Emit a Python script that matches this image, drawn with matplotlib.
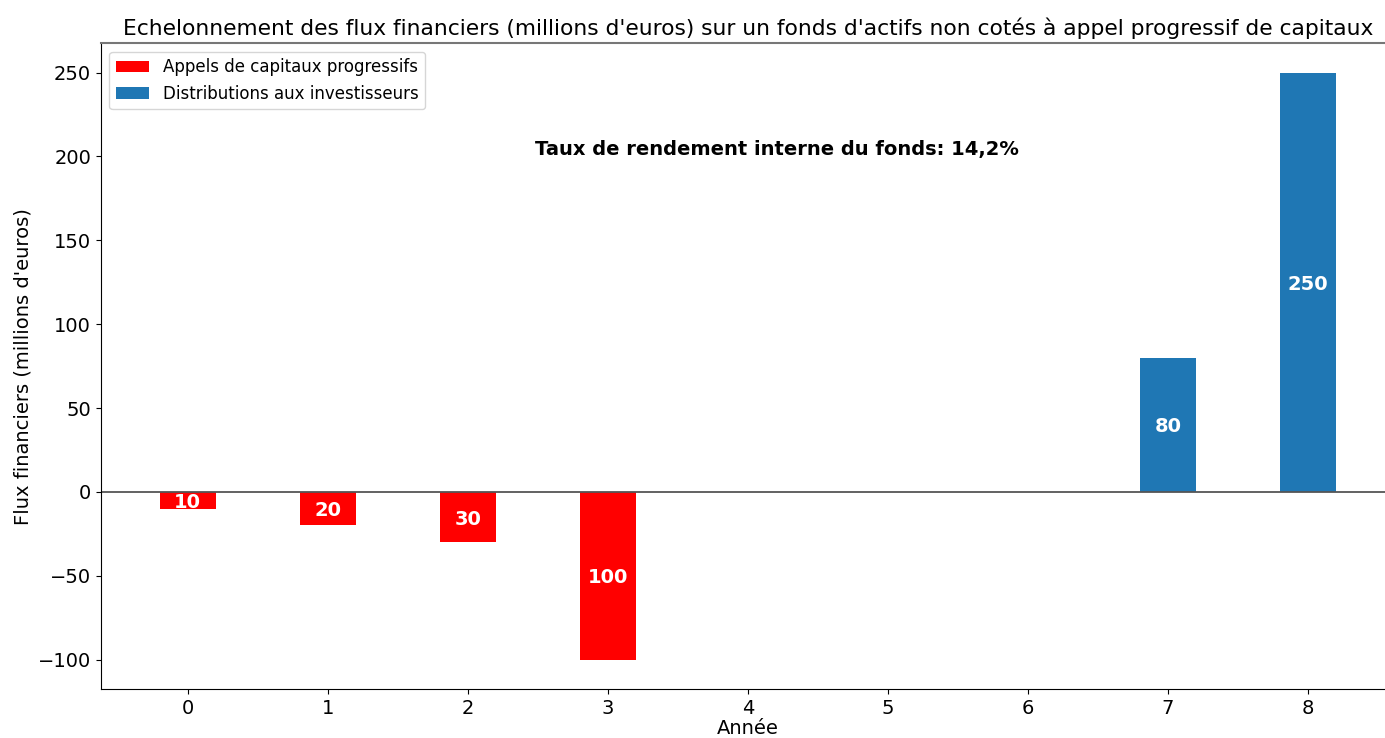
import matplotlib
matplotlib.use('Agg')
import matplotlib.pyplot as plt

# Years and cash flows (millions d'euros)
annees = [0, 1, 2, 3, 4, 5, 6, 7, 8]
appels = [-10, -20, -30, -100, 0, 0, 0, 0, 0]
distributions = [0, 0, 0, 0, 0, 0, 0, 80, 250]
tri_texte = "Taux de rendement interne du fonds: 14,2%"

fig = plt.figure(figsize=(13.85, 7.38), dpi=100)
ax = fig.add_axes([0.0729, 0.0664, 0.934, 0.875])

ax.bar(annees, appels, width=0.4, color='red', label='Appels de capitaux progressifs')
ax.bar(annees, distributions, width=0.4, color='#1f77b4', label='Distributions aux investisseurs')

# labels inside bars, skip zeros
for x, a, d in zip(annees, appels, distributions):
    for v in (a, d):
        if v != 0:
            ax.text(x, v / 2, str(abs(v)), ha='center', va='center_baseline',
                    color='white', fontsize=14, fontweight='bold')

ax.axhline(0, color='#555555', lw=1.3)
ax.spines['top'].set_color('#777777')
ax.spines['top'].set_linewidth(1.5)
ax.spines['right'].set_visible(False)

ax.set_xticks(annees)
ax.tick_params(labelsize=14)
ax.set_xlabel('Année', fontsize=14, labelpad=1)
ax.set_ylabel("Flux financiers (millions d'euros)", fontsize=14, labelpad=4)
ax.set_title("Echelonnement des flux financiers (millions d'euros) sur un fonds d'actifs non cotés à appel progressif de capitaux",
             fontsize=15.65, pad=6)

ax.text(4.21, 204, tri_texte, ha='center', va='center', fontsize=14, fontweight='bold')
ax.legend(loc='upper left', fontsize=12)

fig.savefig('out.png', dpi=100)
